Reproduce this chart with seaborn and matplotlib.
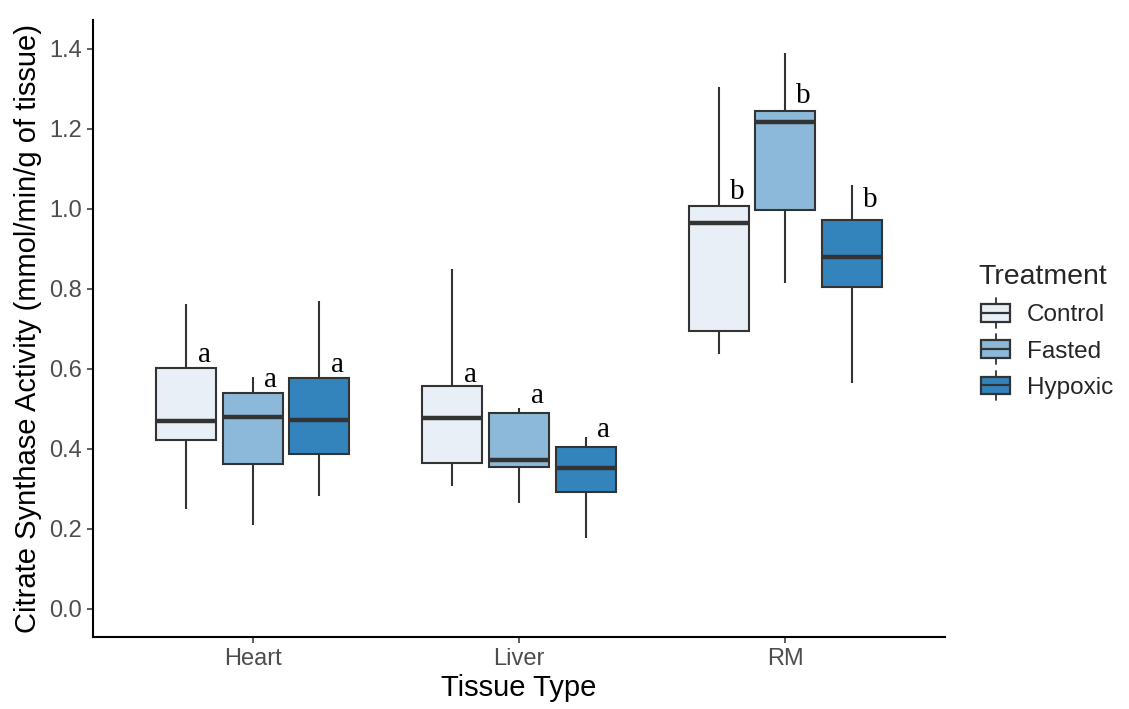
import numpy as np
import pandas as pd
import matplotlib
matplotlib.use("Agg")
import matplotlib.pyplot as plt
import seaborn as sns
from matplotlib.patches import Patch, Rectangle
from matplotlib.lines import Line2D
from matplotlib.legend_handler import HandlerBase

# Data (five-number summaries per group)
tissues = ["Heart", "Liver", "RM"]
treatments = ["Control", "Fasted", "Hypoxic"]
colors = ["#E8EFF7", "#8CB9D9", "#3383BD"]

# order: Heart C/F/H, Liver C/F/H, RM C/F/H
whisk_lo = [0.25, 0.21, 0.283, 0.308, 0.265, 0.178, 0.638, 0.815, 0.565]
q1 = [0.423, 0.363, 0.388, 0.365, 0.355, 0.293, 0.695, 0.998, 0.805]
median = [0.470, 0.480, 0.473, 0.478, 0.373, 0.353, 0.965, 1.218, 0.880]
q3 = [0.603, 0.540, 0.578, 0.558, 0.490, 0.405, 1.008, 1.245, 0.973]
whisk_hi = [0.763, 0.580, 0.770, 0.850, 0.503, 0.430, 1.305, 1.390, 1.060]

letters = ["a", "a", "a", "a", "a", "a", "b", "b", "b"]
letter_y = [0.618, 0.555, 0.593, 0.568, 0.515, 0.430, 1.025, 1.265, 1.005]

# Build a long table so seaborn computes the boxes (min/q1/median/q3/max)
rows = []
i = 0
for t in tissues:
    for tr in treatments:
        for v in [whisk_lo[i], q1[i], median[i], q3[i], whisk_hi[i]]:
            rows.append({"Tissue": t, "Treatment": tr, "Activity": v})
        i += 1
df = pd.DataFrame(rows)

sns.set_style("ticks")
plt.rcParams["font.family"] = ["Liberation Sans", "DejaVu Sans"]

fig = plt.figure(figsize=(11.29, 7.09), dpi=100)
ax = fig.add_axes([0.0824, 0.1016, 0.7546, 0.8704])

edge = "#333333"
sns.boxplot(data=df, x="Tissue", y="Activity", hue="Treatment",
            order=tissues, hue_order=treatments, palette=colors,
            whis=(0, 100), width=0.75, gap=0.1, linewidth=1.5,
            linecolor=edge, saturation=1, showcaps=False, legend=False,
            medianprops={"linewidth": 3.2, "color": edge},
            ax=ax)

# significance letters
i = 0
for ci in range(len(tissues)):
    for hi in range(len(treatments)):
        ax.text(ci + (hi - 1) * 0.25 + 0.068, letter_y[i], letters[i],
                ha="center", va="baseline", fontsize=21,
                family=["Liberation Serif", "DejaVu Serif"], color="black")
        i += 1

ax.set_xlim(-0.6, 2.6)
ax.set_ylim(-0.07, 1.4725)
ax.set_yticks(np.arange(0, 1.41, 0.2))
ax.set_yticklabels([f"{v:.1f}" for v in np.arange(0, 1.41, 0.2)])
ax.tick_params(axis="both", labelsize=17, labelcolor="#4D4D4D",
               color="#333333", length=4.5, width=1.1)
ax.set_xlabel("Tissue Type", fontsize=21, color="black", labelpad=3)
ax.set_ylabel("Citrate Synthase Activity (mmol/min/g of tissue)",
              fontsize=21, color="black", labelpad=5)
for s in ["left", "bottom"]:
    ax.spines[s].set_linewidth(1.5)
    ax.spines[s].set_color("black")
sns.despine(ax=ax)


class BoxHandler(HandlerBase):
    def create_artists(self, legend, orig_handle, xdescent, ydescent,
                       width, height, fontsize, trans):
        x0, y0 = -xdescent, -ydescent
        cx = x0 + width / 2
        fc = orig_handle.get_facecolor()
        whisk = Line2D([cx, cx], [y0 - 0.35 * height, y0 + 1.35 * height],
                       color=edge, lw=1.3, transform=trans)
        box = Rectangle((x0 + 0.08 * width, y0), 0.84 * width, height,
                        facecolor=fc, edgecolor=edge, lw=1.6,
                        transform=trans)
        med = Line2D([x0 + 0.08 * width, x0 + 0.92 * width],
                     [y0 + 0.5 * height, y0 + 0.5 * height],
                     color=edge, lw=1.6, transform=trans)
        return [whisk, box, med]


handles = [Patch(facecolor=c, label=t) for c, t in zip(colors, treatments)]
leg = ax.legend(handles=handles, title="Treatment", loc="center left",
                bbox_to_anchor=(1.013, 0.495), frameon=False, fontsize=17.5,
                title_fontsize=20.5, handlelength=1.45, handleheight=0.72,
                labelspacing=0.58, handletextpad=0.55, alignment="left",
                handler_map={Patch: BoxHandler()})

fig.savefig("out.png", dpi=100)
